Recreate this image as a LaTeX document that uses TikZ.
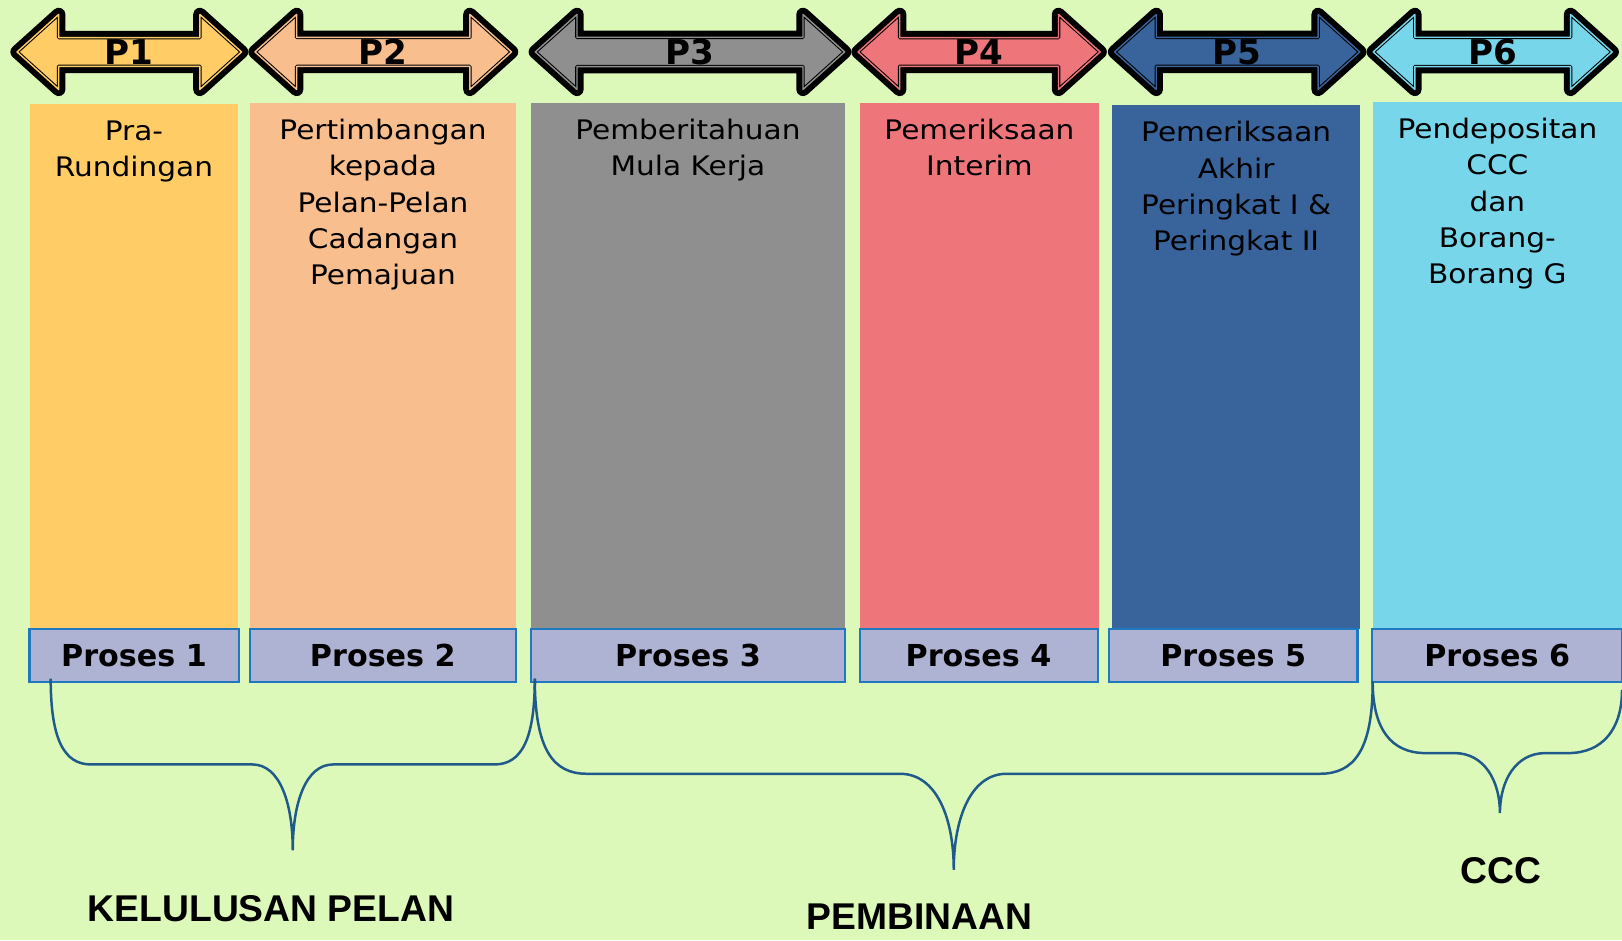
\documentclass[tikz,border=0pt]{standalone}
\usepackage{fontspec}
\newfontfamily\colfont[FakeStretch=1.1]{DejaVu Sans}
\newfontfamily\tagfont{DejaVu Sans}
\newfontfamily\labfont{Liberation Sans}
\usetikzlibrary{shapes.arrows,positioning}

\definecolor{latar}{HTML}{DDF9B9}
\definecolor{pA}{HTML}{FFCC66}
\definecolor{pB}{HTML}{F8BE8E}
\definecolor{pC}{HTML}{8F8F8F}
\definecolor{pD}{HTML}{EE767B}
\definecolor{pE}{HTML}{39639B}
\definecolor{pF}{HTML}{78D6EB}
\definecolor{prosesfill}{HTML}{AFB3D3}
\definecolor{prosesline}{HTML}{1F78C0}
\definecolor{bracecol}{HTML}{1F5A8A}

\begin{document}
\begin{tikzpicture}[x=0.5pt, y=-0.5pt,
         phase/.style = {double arrow,
                double arrow tip angle=84,
                double arrow head extend=10.1pt,
                minimum width=36.25pt,
                inner sep=0pt, outer sep=0pt,
                fill=#1, draw=black, line width=0.5pt,
                double=#1, double distance=0.7pt, line join=round,
                preaction={draw=black, line width=6.5pt, line join=round},
                font=\tagfont\bfseries\fontsize{16.5}{18}\selectfont},
         colbox/.style = {rectangle, inner sep=0pt, outer sep=0pt,
                anchor=north west},
         coltext/.style = {align=center, inner sep=0pt,
                font=\colfont\fontsize{13}{17.5}\selectfont},
         proses/.style = {rectangle, draw=prosesline, line width=1pt,
                fill=prosesfill, minimum height=25.5pt, inner sep=0pt,
                font=\tagfont\bfseries\fontsize{14.6}{16}\selectfont},
         brace/.style = {draw=bracecol, line width=1.2pt},
         grouplabel/.style = {anchor=base, inner sep=0pt,
                font=\labfont\bfseries\fontsize{18}{20}\selectfont},
         ]
\useasboundingbox (0,0) rectangle (1568,909);
\fill[latar] (0,0) rectangle (1568,909);

% columns
\foreach \n/\xl/\xr/\yt/\col/\txt in {
    1/29.3/229.7/100.5/pA/{Pra-\\Rundingan},
    2/242/498.5/99.3/pB/{Pertimbangan\\kepada\\Pelan-Pelan\\Cadangan\\Pemajuan},
    3/513.4/816.7/99.3/pC/{Pemberitahuan\\Mula Kerja},
    4/831.2/1062.5/99.3/pD/{Pemeriksaan\\Interim},
    5/1075/1315/101.5/pE/{Pemeriksaan\\Akhir\\Peringkat I \&\\Peringkat II},
    6/1327/1568/98.3/pF/{Pendepositan\\CCC\\dan\\Borang-\\Borang G}}
{
  \node[colbox, fill=\col,
        minimum width={(\xr-\xl)*0.5pt},
        minimum height={(608-\yt)*0.5pt}] (c\n) at (\xl,\yt) {};
  \node[coltext, below=7.8pt of c\n.north] (t\n) {\txt};
}

% proses boxes
\foreach \n/\pl/\pr in {1/28.5/230.7, 2/241.7/498.5, 3/513.4/816.7,
                        4/831/1061, 5/1072/1312.3, 6/1326.6/1568}
  \node[proses, minimum width={(\pr-\pl)*0.5pt}] (pr\n) at ({(\pl+\pr)/2},633.5) {Proses \n};

% arrows
\foreach \n/\cx/\len/\col in {1/125/108.5/pA, 2/370.5/124/pB, 3/667/149.5/pC,
                              4/946.5/117/pD, 5/1196/118.5/pE, 6/1443/115.5/pF}
  \node[phase=\col, minimum height=\len pt] (p\n) at (\cx,50.2) {P\n};

% braces
\coordinate (kA) at (49,656);
\coordinate (kB) at (517,656);
\coordinate (kC) at (1327,659);
\coordinate (kD) at (1568,667);
\coordinate (tipA) at (283,822);
\coordinate (tipB) at (922,841);
\coordinate (tipC) at (1450,786);

\draw[brace] (kA) .. controls (49,715) and (62,739) .. (88,739) -- (244,739)
   .. controls (270,739) and (283,775) .. (tipA)
   .. controls (283,775) and (296,739) .. (322,739) -- (478,739)
   .. controls (504,739) and (517,715) .. (kB);
\draw[brace] (kB) .. controls (517,725) and (535,748) .. (567,748) -- (870,748)
   .. controls (905,748) and (922,790) .. (tipB)
   .. controls (922,790) and (939,748) .. (973,748) -- (1276,748)
   .. controls (1309,748) and (1327,725) .. (kC);
\draw[brace] (kC) .. controls (1327,705) and (1345,728) .. (1378,728) -- (1406,728)
   .. controls (1435,728) and (1450,755) .. (tipC)
   .. controls (1450,755) and (1465,728) .. (1494,728) -- (1516,728)
   .. controls (1549,728) and (1568,705) .. (kD);

\node[grouplabel] (kel) at (262,891) {KELULUSAN PELAN};
\node[grouplabel] (bina) at (889,899) {PEMBINAAN};
\node[grouplabel] (ccc) at (1451,854) {CCC};
\end{tikzpicture}
\end{document}
